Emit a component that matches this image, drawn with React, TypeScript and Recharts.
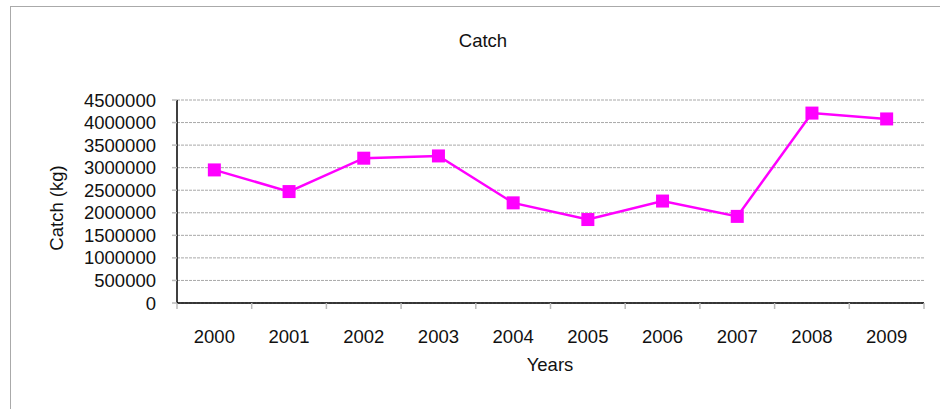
import React from "react";
import { LineChart, Line, XAxis, YAxis, CartesianGrid } from "recharts";

const years = ["2000", "2001", "2002", "2003", "2004", "2005", "2006", "2007", "2008", "2009"];
const catchKg = [2950000, 2470000, 3210000, 3260000, 2220000, 1850000, 2260000, 1920000, 4210000, 4080000];
const yTicks = [0, 500000, 1000000, 1500000, 2000000, 2500000, 3000000, 3500000, 4000000, 4500000];

const FONT = '"Liberation Sans", Arial, sans-serif';
const MAGENTA = "#ff00ff";

const data = years.map((y, i) => ({ idx: i, year: y, value: catchKg[i] }));

// ticks at every category center (labels) and every boundary (tick marks)
const xTicks: number[] = [];
for (let i = 0; i <= years.length * 2; i++) xTicks.push(i / 2 - 0.5);

function XTick(props: any) {
  const { x, y, payload } = props;
  const v = payload.value as number;
  if (Number.isInteger(v)) {
    return (
      <text x={x} y={y + 40} textAnchor="middle" fontSize={18.5} fontFamily={FONT} fill="#111">
        {years[v]}
      </text>
    );
  }
  return <line x1={x} x2={x} y1={y} y2={y + 6} stroke="#bbb" strokeWidth={1.5} />;
}

function SquareDot(props: any) {
  const { cx, cy } = props;
  if (cx == null || cy == null) return null;
  return <rect x={cx - 6.5} y={cy - 6.5} width={13} height={13} fill={MAGENTA} />;
}

export default function App() {
  return (
    <div style={{ position: "absolute", left: 0, top: 0, width: 940, height: 409, background: "#fff" }}>
      <div
        style={{
          position: "absolute",
          left: 10,
          top: 6,
          width: 940,
          height: 420,
          borderTop: "1px solid #aaa",
          borderLeft: "1px solid #aaa",
        }}
      />
      <LineChart
        width={940}
        height={409}
        data={data}
        margin={{ top: 100, right: 16, bottom: 66, left: 77 }}
        style={{ position: "absolute", left: 0, top: 0 }}
      >
        <CartesianGrid vertical={false} stroke="#a8a8a8" strokeDasharray="3 1" />
        <XAxis
          dataKey="idx"
          type="number"
          domain={[-0.5, years.length - 0.5]}
          ticks={xTicks}
          interval={0}
          tick={<XTick />}
          tickLine={false}
          tickSize={0}
          tickMargin={0}
          height={40}
          axisLine={{ stroke: "#000", strokeWidth: 1.5 }}
        />
        <YAxis
          domain={[0, 4500000]}
          ticks={yTicks}
          interval={0}
          width={100}
          tickSize={5}
          tickMargin={16}
          tickLine={{ stroke: "#bbb", strokeWidth: 1.5 }}
          axisLine={{ stroke: "#000", strokeWidth: 1.5 }}
          tick={{ fontSize: 18.5, fontFamily: FONT, fill: "#111" }}
        />
        <Line
          type="linear"
          dataKey="value"
          stroke={MAGENTA}
          strokeWidth={2.5}
          dot={<SquareDot />}
          activeDot={false}
          isAnimationActive={false}
        />
      </LineChart>
      <svg
        width={940}
        height={409}
        style={{ position: "absolute", left: 0, top: 0, pointerEvents: "none" }}
      >
        <text x={483} y={47} textAnchor="middle" fontSize={18.5} fontFamily={FONT} fill="#111">
          Catch
        </text>
        <text
          x={0}
          y={0}
          textAnchor="middle"
          fontSize={18.5}
          fontFamily={FONT}
          fill="#111"
          transform="translate(63,208) rotate(-90)"
        >
          Catch (kg)
        </text>
        <text x={550} y={371} textAnchor="middle" fontSize={18.5} fontFamily={FONT} fill="#111">
          Years
        </text>
      </svg>
    </div>
  );
}
